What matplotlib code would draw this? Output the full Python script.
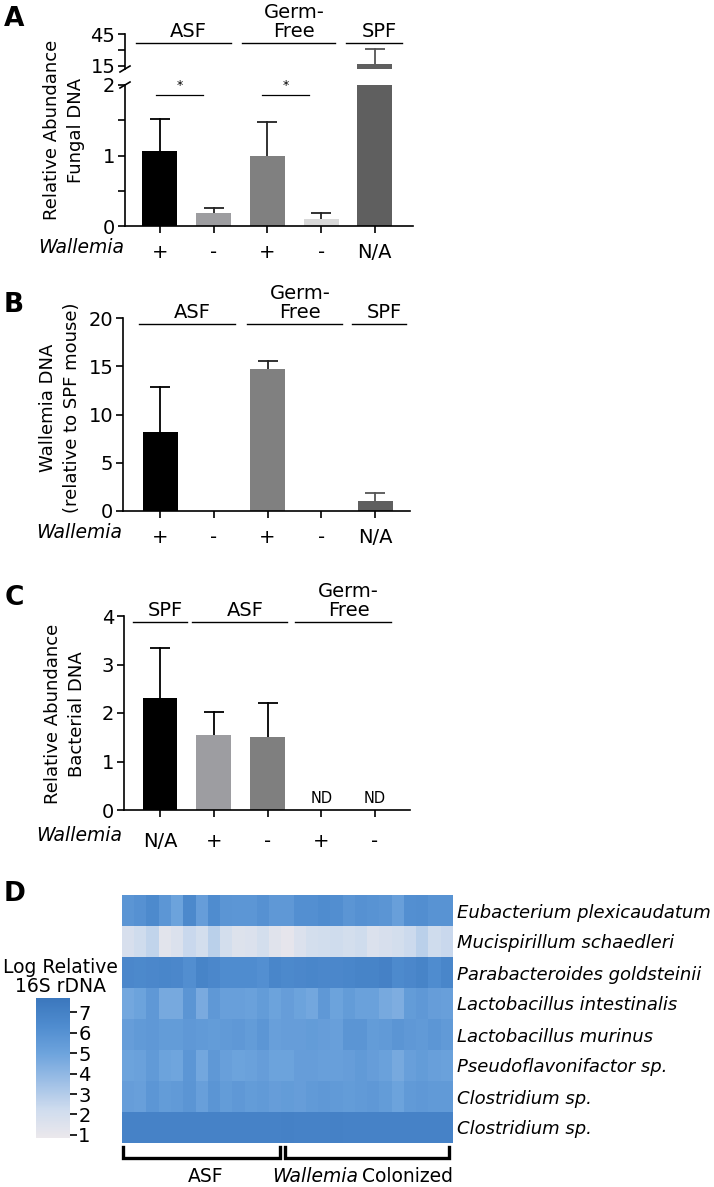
import numpy as np
import matplotlib
matplotlib.use('Agg')
import matplotlib.pyplot as plt
from matplotlib.colors import LinearSegmentedColormap
from matplotlib.transforms import blended_transform_factory

plt.rcParams['font.family'] = 'DejaVu Sans'
plt.rcParams['font.size'] = 14

# ---- data ----
wallemia_ab = ['+', '-', '+', '-', 'N/A']
fungal_vals = [1.07, 0.18, 1.00, 0.10, 17.0]
fungal_err = [0.45, 0.07, 0.48, 0.08, 14.0]
fungal_colors = ['#000000', '#9d9da0', '#808080', '#d9d9d9', '#5f5f5f']
err_colors = ['#000000', '#222222', '#222222', '#222222', '#555555']

wal_vals = [8.2, 0, 14.7, 0, 1.0]
wal_err = [4.7, 0, 0.8, 0, 0.9]
wal_colors = ['#000000', '#9d9da0', '#808080', '#d9d9d9', '#5f5f5f']

wallemia_c = ['N/A', '+', '-', '+', '-']
bact_vals = [2.31, 1.54, 1.50, 0, 0]
bact_err = [1.02, 0.48, 0.70, 0, 0]
bact_colors = ['#000000', '#9d9da1', '#7f7f7f', '#7f7f7f', '#7f7f7f']
bact_nd = [False, False, False, True, True]

groups_a = [('ASF', -0.45, 1.32), ('Germ-\nFree', 1.53, 3.26), ('SPF', 3.46, 4.51)]
groups_b = [('ASF', -0.39, 1.40), ('Germ-\nFree', 1.62, 3.39), ('SPF', 3.57, 4.58)]
groups_c = [('SPF', -0.5, 0.5), ('ASF', 0.6, 2.36), ('Germ-\nFree', 2.51, 4.3)]

species = ['Eubacterium plexicaudatum', 'Mucispirillum schaedleri', 'Parabacteroides goldsteinii',
           'Lactobacillus intestinalis', 'Lactobacillus murinus', 'Pseudoflavonifactor sp.',
           'Clostridium sp.', 'Clostridium sp.']
heat = [
    [5.8, 6.0, 6.4, 5.7, 5.0, 6.5, 5.3, 6.3, 5.8, 5.7, 5.7, 6.0, 5.6, 5.6, 6.1, 6.1, 6.3, 6.2, 5.8, 6.0, 5.9, 5.8, 5.2, 6.1, 6.2, 5.9, 5.9],
    [1.8, 2.2, 2.6, 1.3, 1.6, 2.4, 2.0, 2.8, 2.0, 1.5, 1.6, 2.0, 1.4, 1.1, 1.6, 2.0, 2.1, 2.2, 2.0, 2.2, 1.6, 1.8, 2.0, 2.3, 2.8, 2.2, 2.4],
    [6.6, 6.5, 6.6, 6.7, 6.6, 6.2, 6.8, 6.6, 6.3, 6.3, 6.3, 6.1, 6.7, 6.5, 6.6, 6.7, 6.6, 6.6, 6.7, 6.8, 6.8, 7.0, 6.4, 6.6, 6.8, 6.3, 6.7],
    [4.8, 5.0, 5.6, 4.7, 4.7, 5.8, 4.6, 5.6, 5.2, 5.2, 5.1, 5.4, 5.0, 5.3, 5.0, 4.8, 5.6, 5.0, 5.4, 5.1, 5.1, 4.7, 4.5, 5.4, 5.6, 5.3, 5.2],
    [5.3, 5.5, 5.6, 5.4, 5.4, 5.6, 5.5, 5.4, 5.5, 5.6, 5.4, 5.7, 5.2, 5.3, 5.3, 5.4, 5.3, 5.2, 5.8, 5.8, 5.4, 5.5, 5.8, 5.6, 5.5, 5.7, 5.5],
    [5.0, 5.1, 5.5, 5.0, 4.9, 5.7, 4.8, 5.6, 5.2, 5.0, 5.1, 5.3, 5.0, 5.0, 5.3, 5.3, 5.2, 5.2, 5.3, 5.5, 5.3, 5.1, 4.7, 5.2, 5.4, 5.2, 5.1],
    [5.3, 5.2, 5.7, 5.4, 5.5, 5.8, 5.2, 5.8, 5.4, 5.6, 5.4, 5.5, 5.3, 5.4, 5.3, 5.5, 5.6, 5.5, 5.4, 5.5, 5.6, 5.4, 5.0, 5.5, 5.6, 5.5, 5.5],
    [6.9, 6.9, 6.9, 6.9, 6.9, 6.9, 6.9, 6.9, 6.9, 6.9, 6.9, 6.9, 6.9, 7.0, 6.9, 6.9, 6.9, 7.0, 6.9, 6.9, 6.9, 6.9, 6.9, 6.9, 6.9, 6.9, 6.9],
]
n_asf = 13

W, H = 714, 1187
fig = plt.figure(figsize=(W / 100, H / 100), dpi=100)


def box(l, t, r, b):
    return [l / W, 1 - b / H, (r - l) / W, (b - t) / H]


def fx(x):
    return x / W


def fy(y):
    return 1 - y / H


def style(ax, xpad=7):
    for s in ['top', 'right']:
        ax.spines[s].set_visible(False)
    for s in ['left', 'bottom']:
        ax.spines[s].set_linewidth(1.2)
    ax.tick_params(width=1.2, length=5, labelsize=14, pad=2)
    ax.tick_params(axis='x', pad=xpad)


def bars(ax, vals, errs, colors, ecolors=None):
    x = np.arange(len(vals))
    ax.bar(x, vals, width=0.65, color=colors, zorder=2)
    for i in range(len(vals)):
        if vals[i] > 0:
            ec = ecolors[i] if ecolors else '#000000'
            top = vals[i] + errs[i]
            ax.plot([x[i], x[i]], [vals[i], top], color=ec, lw=1.3, zorder=1)
            ax.plot([x[i]], [top], marker='_', markersize=15, mew=1.3, color=ec, zorder=1)


def group_labels(ax, groups, y_line):
    tr = blended_transform_factory(ax.transData, fig.transFigure)
    for name, x0, x1 in groups:
        ax.plot([x0, x1], [fy(y_line), fy(y_line)], color='k', lw=1.0, transform=tr, clip_on=False)
        ax.text((x0 + x1) / 2 + 0.1, fy(y_line - 2), name, transform=tr, ha='center', va='bottom',
                fontsize=14, linespacing=1.0)


# ---- panel A ----
axA = fig.add_axes(box(125, 85, 413, 226))
bars(axA, fungal_vals, fungal_err, fungal_colors, err_colors)
axA.set_ylim(0, 2)
axA.set_xlim(-0.65, 4.71)
axA.set_yticks([0, 0.5, 1, 1.5, 2])
axA.set_yticklabels(['0', '', '1', '', '2'])
axA.set_xticks(range(5))
axA.set_xticklabels(wallemia_ab)
style(axA)

axAt = fig.add_axes(box(125, 34, 413, 69))
bars(axAt, fungal_vals, fungal_err, fungal_colors, err_colors)
axAt.set_ylim(12, 45)
axAt.set_xlim(-0.65, 4.71)
axAt.set_yticks([15, 30, 45])
axAt.set_yticklabels(['15', '', '45'])
axAt.set_xticks([])
style(axAt)
axAt.spines['bottom'].set_visible(False)

# axis break marks
for y0 in [72, 88]:
    fig.add_artist(plt.Line2D([fx(120), fx(130)], [fy(y0), fy(y0 - 6)], color='k', lw=1.2))

# significance
for x0, x1 in [(-0.07, 0.8), (1.9, 2.77)]:
    axA.plot([x0, x1], [1.86, 1.86], color='k', lw=0.9, clip_on=False)
    axA.text((x0 + x1) / 2, 1.9, '*', ha='center', va='bottom', fontsize=9)

group_labels(axAt, groups_a, 42.7)
fig.text(fx(64), fy(130), 'Relative Abundance\nFungal DNA', rotation=90, ha='center', va='center',
         multialignment='center', linespacing=1.4, fontsize=13)
fig.text(fx(124), fy(238), 'Wallemia', style='italic', ha='right', va='top', fontsize=13.5)
fig.text(fx(14), fy(19), 'A', fontsize=19, fontweight='bold', ha='center', va='center')

# ---- panel B ----
axB = fig.add_axes(box(123, 318, 410, 511))
bars(axB, wal_vals, wal_err, wal_colors, err_colors)
axB.set_ylim(0, 20)
axB.set_xlim(-0.69, 4.65)
axB.set_yticks([0, 5, 10, 15, 20])
axB.set_xticks(range(5))
axB.set_xticklabels(wallemia_ab)
style(axB)
group_labels(axB, groups_b, 324.3)
fig.text(fx(60), fy(408), 'Wallemia DNA\n(relative to SPF mouse)', rotation=90, ha='center',
         va='center', multialignment='center', linespacing=1.4, fontsize=13)
fig.text(fx(122), fy(523), 'Wallemia', style='italic', ha='right', va='top', fontsize=13.5)
fig.text(fx(14), fy(305), 'B', fontsize=19, fontweight='bold', ha='center', va='center')

# ---- panel C ----
axC = fig.add_axes(box(124, 616, 410, 810))
bars(axC, bact_vals, bact_err, bact_colors)
axC.set_ylim(0, 4)
axC.set_xlim(-0.67, 4.65)
axC.set_yticks([0, 1, 2, 3, 4])
axC.set_xticks(range(5))
axC.set_xticklabels(wallemia_c)
style(axC, xpad=11)
for i, nd in enumerate(bact_nd):
    if nd:
        axC.text(i, 0.08, 'ND', ha='center', va='bottom', fontsize=10.5)
group_labels(axC, groups_c, 621.7)
fig.text(fx(65), fy(714), 'Relative Abundance\nBacterial DNA', rotation=90, ha='center',
         va='center', multialignment='center', linespacing=1.4, fontsize=13)
fig.text(fx(122), fy(826), 'Wallemia', style='italic', ha='right', va='top', fontsize=13.5)
fig.text(fx(14), fy(598), 'C', fontsize=19, fontweight='bold', ha='center', va='center')

# ---- panel D ----
cmap = LinearSegmentedColormap.from_list(
    'lr', ['#ebe8ec', '#cfdcee', '#9ebfe6', '#6ea4dd', '#4f8ccf', '#3b77bd'])
axD = fig.add_axes(box(122, 895, 453, 1143))
im = axD.imshow(np.array(heat), cmap=cmap, vmin=0.85, vmax=7.7, aspect='auto',
                interpolation='nearest')
axD.set_xticks([])
axD.set_yticks(range(len(species)))
axD.set_yticklabels(species, fontstyle='italic', fontsize=13)
axD.yaxis.tick_right()
axD.tick_params(length=0, pad=3)
for s in axD.spines.values():
    s.set_visible(False)

# brackets under heatmap
trD = blended_transform_factory(axD.transData, fig.transFigure)
for x0, x1 in [(-0.42, n_asf - 0.61), (n_asf - 0.2, 26.17)]:
    axD.plot([x0, x0, x1, x1], [fy(1147), fy(1158), fy(1158), fy(1147)], color='k', lw=2.4,
             transform=trD, clip_on=False, solid_joinstyle='miter')
axD.text(6.3, fy(1177), 'ASF', transform=trD, ha='center', va='center', fontsize=13.5)
axD.text(18.75, fy(1177), 'Wallemia', transform=trD, ha='right', va='center', style='italic',
         fontsize=13.5)
axD.text(19.05, fy(1177), 'Colonized', transform=trD, ha='left', va='center', fontsize=13.5)

cax = fig.add_axes(box(36, 998, 70, 1138))
cb = fig.colorbar(im, cax=cax, ticks=range(1, 8))
cb.outline.set_visible(False)
cax.tick_params(length=5, width=1.2, pad=1, labelsize=14)
fig.text(fx(60), fy(977), 'Log Relative\n16S rDNA', ha='center', va='center', linespacing=1.0,
         fontsize=13.5)
fig.text(fx(15), fy(894), 'D', fontsize=19, fontweight='bold', ha='center', va='center')

fig.savefig('out.png', dpi=100)
